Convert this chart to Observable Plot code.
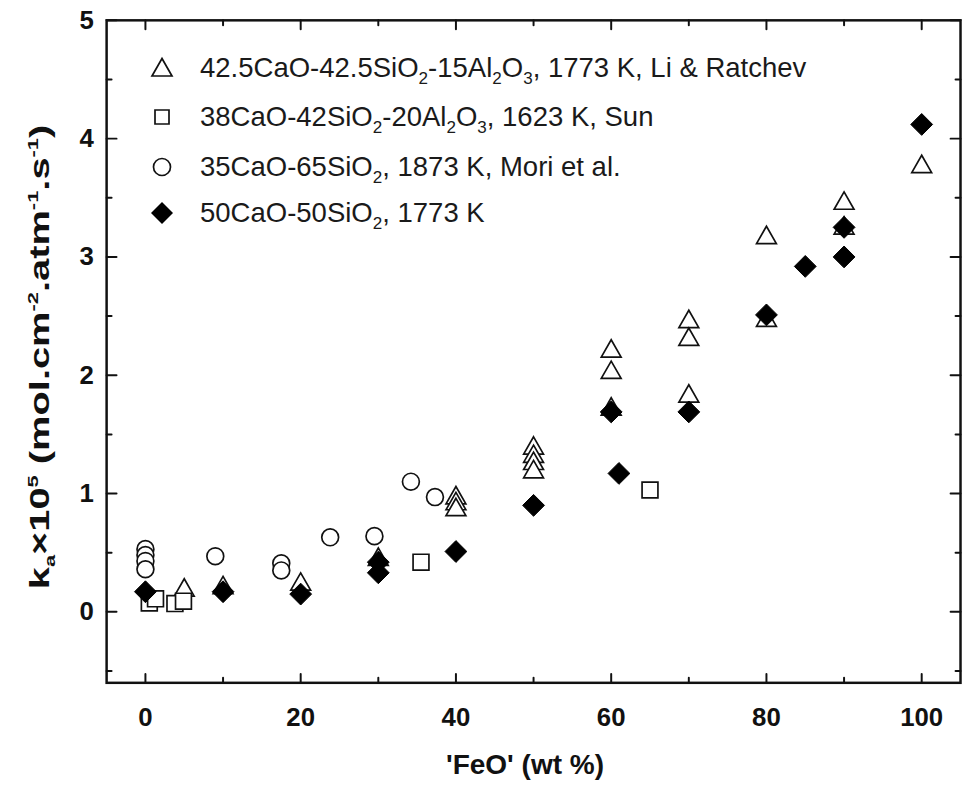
<!DOCTYPE html>
<html><head><meta charset="utf-8">
<script src="https://cdn.jsdelivr.net/npm/d3@7"></script>
<script src="https://cdn.jsdelivr.net/npm/@observablehq/plot@0.6"></script>
<style>
html,body{margin:0;padding:0;background:#fff;overflow:hidden;}
#wrap{position:relative;width:962px;height:786px;overflow:hidden;font-family:"Liberation Sans",Arial,sans-serif;background:#fff;}
#chart{position:absolute;left:0;top:0;}
.row{position:absolute;left:200px;white-space:nowrap;font-size:27.5px;line-height:32px;color:#1a1a1a;}
.sym{position:absolute;left:147px;width:30px;height:30px;}
.row sub{font-size:62%;vertical-align:-0.42em;line-height:0;}
#ytitle{position:absolute;white-space:nowrap;font-weight:bold;font-size:28px;color:#111;transform-origin:center center;}
#ytitle sub{font-size:55%;vertical-align:-0.35em;line-height:0;}
#ytitle sup{font-size:55%;vertical-align:0.75em;line-height:0;}
#xtitle{position:absolute;white-space:nowrap;font-weight:bold;font-size:28px;color:#111;}
</style></head><body><div id="wrap"></div>
<script>
// ---- data ----
const triX = [5, 10, 20, 30, 40, 40, 40, 50, 50, 50, 50, 60, 60, 60, 70, 70, 70, 80, 80, 90, 90, 100];
const triY = [0.20, 0.22, 0.25, 0.46, 0.98, 0.93, 0.88, 1.40, 1.33, 1.27, 1.20, 2.22, 2.04, 1.73, 2.47, 2.32, 1.84, 3.18, 2.48, 3.47, 3.26, 3.78];
const sqX = [0.5, 1.3, 3.8, 4.9, 35.5, 65];
const sqY = [0.075, 0.11, 0.07, 0.09, 0.42, 1.03];
const circX = [0, 0, 0, 0, 9, 17.5, 17.5, 23.8, 29.5, 34.2, 37.3];
const circY = [0.53, 0.48, 0.43, 0.36, 0.47, 0.41, 0.35, 0.63, 0.64, 1.10, 0.97];
const diaX = [0, 10, 20, 30, 30, 40, 50, 60, 61, 70, 80, 85, 90, 90, 100];
const diaY = [0.17, 0.17, 0.15, 0.42, 0.33, 0.51, 0.90, 1.69, 1.17, 1.69, 2.51, 2.92, 3.25, 3.00, 4.12];

const xMajor = [0, 20, 40, 60, 80, 100];
const xMinor = [10, 30, 50, 70, 90];
const yMajor = [0, 1, 2, 3, 4, 5];
const yMinor = [-0.5, 0.5, 1.5, 2.5, 3.5, 4.5];
const xDomain = [-5, 105];
const yDomain = [-0.6, 5];

const legendLabels = [
  '42.5CaO-42.5SiO<sub>2</sub>-15Al<sub>2</sub>O<sub>3</sub>, 1773 K, Li &amp; Ratchev',
  '38CaO-42SiO<sub>2</sub>-20Al<sub>2</sub>O<sub>3</sub>, 1623 K, Sun',
  '35CaO-65SiO<sub>2</sub>, 1873 K, Mori et al.',
  '50CaO-50SiO<sub>2</sub>, 1773 K'
];
const xTitle = "'FeO' (wt %)";
const yTitleHTML = 'k<sub>a</sub>×10<sup>5</sup> (mol.cm<sup>-2</sup>.atm<sup>-1</sup>.s<sup>-1</sup>)';

const zip = (xs, ys) => xs.map((x, i) => ({x, y: ys[i]}));
const tri = zip(triX, triY), sq = zip(sqX, sqY), circ = zip(circX, circY), dia = zip(diaX, diaY);

// ---- symbols ----
const triSym = {draw(c){ c.moveTo(0,-9.5); c.lineTo(10,8); c.lineTo(-10,8); c.closePath(); }};
const sqSym = {draw(c){ c.moveTo(-8,-8); c.lineTo(8,-8); c.lineTo(8,8); c.lineTo(-8,8); c.closePath(); }};
const diaSym = {draw(c){ c.moveTo(0,-11); c.lineTo(11,0); c.lineTo(0,11); c.lineTo(-11,0); c.closePath(); }};
const circSym = {draw(c){ c.moveTo(8.5,0); c.arc(0,0,8.5,0,2*Math.PI); c.closePath(); }};
const spike = {draw(c, l){ c.moveTo(0,0); c.lineTo(0,-l); }};

const tickFont = {fontFamily: '"Liberation Sans",Arial,sans-serif', fontSize: 26, fontWeight: "bold"};
const tk = (data, opts) => Plot.vector(data, {shape: spike, anchor: "start", stroke: "#111", strokeWidth: 2, ...opts});

const chart = Plot.plot({
  width: 970, height: 786,
  marginTop: 20, marginBottom: 98, marginLeft: 107, marginRight: 2,
  x: {domain: xDomain, axis: null},
  y: {domain: yDomain, axis: null},
  style: {background: "white", color: "#111"},
  marks: [
    // ticks, inward on all four sides
    tk(xMajor, {x: d => d, y: () => yDomain[0], length: 9, rotate: 0}),
    tk(xMinor, {x: d => d, y: () => yDomain[0], length: 5, rotate: 0}),
    tk(xMajor, {x: d => d, y: () => yDomain[1], length: 9, rotate: 180}),
    tk(xMinor, {x: d => d, y: () => yDomain[1], length: 5, rotate: 180}),
    tk(yMajor, {y: d => d, x: () => xDomain[0], length: 10, rotate: 90}),
    tk(yMinor, {y: d => d, x: () => xDomain[0], length: 5, rotate: 90}),
    tk(yMajor, {y: d => d, x: () => xDomain[1], length: 10, rotate: -90}),
    tk(yMinor, {y: d => d, x: () => xDomain[1], length: 5, rotate: -90}),
    Plot.frame({stroke: "#111", strokeWidth: 2.5}),
    Plot.axisX(xMajor, {anchor: "bottom", tickSize: 0, tickPadding: 25, label: null, tickFormat: d3.format("d"), ...tickFont}),
    Plot.axisY(yMajor, {anchor: "left", tickSize: 0, tickPadding: 13, label: null, tickFormat: d3.format("d"), ...tickFont}),
    // data
    Plot.dot(circ, {x: "x", y: "y", symbol: circSym, r: 8.5, stroke: "#111", fill: "white", strokeWidth: 1.7}),
    Plot.dot(tri, {x: "x", y: "y", symbol: triSym, r: 10, stroke: "#111", fill: "white", strokeWidth: 1.7}),
    Plot.dot(sq, {x: "x", y: "y", symbol: sqSym, r: 8, stroke: "#111", fill: "white", strokeWidth: 1.7}),
    Plot.dot(dia, {x: "x", y: "y", symbol: diaSym, r: 11, stroke: "#000", fill: "#000", strokeWidth: 1})
  ]
});
chart.id = "chart";
const wrap = document.getElementById("wrap");
wrap.appendChild(chart);

// ---- legend (inside plot, top-left) ----
const symPaths = [
  '<path d="M15,5.5L25,23L5,23Z" fill="white" stroke="#111" stroke-width="1.7"/>',
  '<path d="M8,8H22V22H8Z" fill="white" stroke="#111" stroke-width="1.7"/>',
  '<circle cx="15" cy="15" r="8.5" fill="white" stroke="#111" stroke-width="1.7"/>',
  '<path d="M15,4L26,15L15,26L4,15Z" fill="#000"/>'
];
const rowY = [68, 117, 167, 213];
legendLabels.forEach((lab, i) => {
  const s = document.createElement("div");
  s.className = "sym"; s.style.top = (rowY[i] - 15) + "px";
  s.innerHTML = '<svg width="30" height="30">' + symPaths[i] + '</svg>';
  wrap.appendChild(s);
  const t = document.createElement("div");
  t.className = "row"; t.style.top = (rowY[i] - 16) + "px";
  t.innerHTML = lab;
  wrap.appendChild(t);
});

// ---- axis titles ----
const xt = document.createElement("div");
xt.id = "xtitle"; xt.textContent = xTitle;
wrap.appendChild(xt);
xt.style.left = (525 - xt.offsetWidth / 2) + "px";
xt.style.top = (765 - xt.offsetHeight / 2) + "px";

const yt = document.createElement("div");
yt.id = "ytitle"; yt.innerHTML = yTitleHTML;
wrap.appendChild(yt);
const yw = yt.offsetWidth, yh = yt.offsetHeight;
yt.style.left = (40 - yw / 2) + "px";
yt.style.top = (357 - yh / 2) + "px";
yt.style.transform = "rotate(-90deg) scaleX(" + (465 / yw) + ")";
</script></body></html>
